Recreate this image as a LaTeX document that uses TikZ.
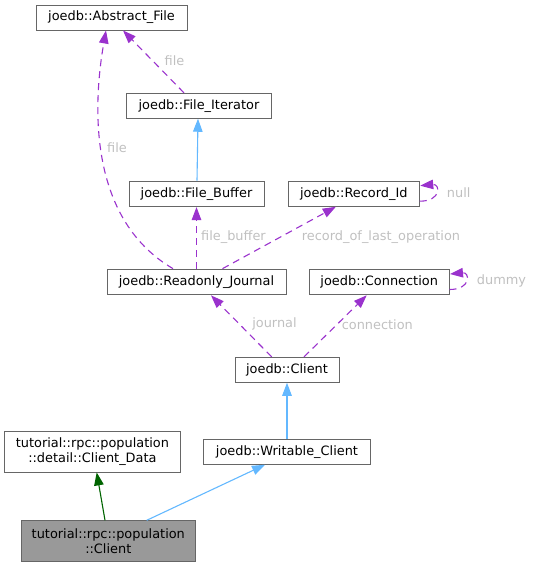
\documentclass[tikz,border=0pt]{standalone}
\usepackage{fontspec}
\setmainfont{DejaVu Sans}
\usetikzlibrary{arrows.meta,calc}
\definecolor{edgepurple}{HTML}{9A32CD}
\definecolor{inhblue}{HTML}{63B8FF}
\definecolor{darkgr}{HTML}{006400}
\definecolor{lblgray}{HTML}{C0C0C0}
\definecolor{boxgray}{HTML}{666666}
\definecolor{fillgray}{HTML}{999999}
\begin{document}
\begin{tikzpicture}[x=1pt,y=-1pt,
  cls/.style={draw=boxgray,line width=0.9pt,fill=white,rectangle,inner sep=0pt,
    font=\fontsize{12.9}{15.2}\selectfont,align=center},
  cur/.style={cls,fill=fillgray},
  tip/.style={-{Triangle[length=13pt,width=9.5pt]}},
  usage/.style={tip,draw=edgepurple,line width=1.1pt,dash pattern=on 7pt off 5pt},
  inherit/.style={tip,draw=inhblue,line width=1.1pt},
  priv/.style={tip,draw=darkgr,line width=1.1pt},
  elabel/.style={text=lblgray,font=\fontsize{12.9}{15.2}\selectfont,inner sep=0pt}]
\useasboundingbox (0,0) rectangle (533,567);

\node[cls,minimum width=151pt,minimum height=25pt] (AF) at (111.5,17.5) {joedb::Abstract\_File};
\node[cls,minimum width=144.7pt,minimum height=25pt] (FI) at (199,105.8) {joedb::File\_Iterator};
\node[cls,minimum width=135pt,minimum height=25.6pt] (FB) at (196.5,193.8) {joedb::File\_Buffer};
\node[cls,minimum width=131pt,minimum height=25.3pt] (RI) at (353.8,193.7) {joedb::Record\_Id};
\node[cls,minimum width=179pt,minimum height=25.8pt] (RJ) at (196.5,282) {joedb::Readonly\_Journal};
\node[cls,minimum width=139.7pt,minimum height=25.7pt] (CN) at (379.2,282) {joedb::Connection};
\node[cls,minimum width=104pt,minimum height=25pt] (CL) at (287,369.8) {joedb::Client};
\node[cls,minimum width=167pt,minimum height=25pt] (WC) at (287,451.8) {joedb::Writable\_Client};
\node[cls,minimum width=175.3pt,minimum height=40.3pt] (CD) at (92.4,451.8) {tutorial::rpc::population\\::detail::Client\_Data};
\node[cur,minimum width=174.7pt,minimum height=40.5pt] (PC) at (108.3,541) {tutorial::rpc::population\\::Client};

% Readonly_Journal -> Abstract_File (file)
\draw[usage] ($(RJ.north)+(-23.5,0)$) .. controls (90,220) and (92,110) .. ($(AF.south)+(-5.5,0)$);
\node[elabel] (l1) at (117,148) {file};
% File_Iterator -> Abstract_File (file)
\draw[usage] ($(FI.north)+(-15,0)$) -- ($(AF.south)+(11.5,0)$);
\node[elabel] (l2) at (174.5,61) {file};
% File_Buffer -> File_Iterator
\draw[inherit] ($(FB.north)+(0.5,0)$) -- ($(FI.south)+(-1,0)$);
% Readonly_Journal -> File_Buffer
\draw[usage] (RJ.north) -- (FB.south);
\node[elabel,anchor=west] (l3) at (201,237) {file\_buffer};
% Readonly_Journal -> Record_Id
\draw[usage] ($(RJ.north)+(26,0)$) -- ($(RI.south)+(-18,0)$);
\node[elabel] (l4) at (381,236.7) {record\_of\_last\_operation};
% Record_Id self loop
\draw[usage] ($(RI.east)+(0,7.5)$) .. controls +(22,0) and +(20,-2) .. ($(RI.east)+(0.5,-8)$);
\node[elabel] (l5) at (458.7,192.7) {null};
% Connection self loop
\draw[usage] ($(CN.east)+(0,7.5)$) .. controls +(22,0) and +(20,-2) .. ($(CN.east)+(0.5,-8)$);
\node[elabel] (l6) at (501.5,280.7) {dummy};
% Client -> Readonly_Journal
\draw[usage] ($(CL.north)+(-15.3,0)$) -- ($(RJ.south)+(14.5,0)$);
\node[elabel] (l7) at (274.5,324.3) {journal};
% Client -> Connection
\draw[usage] ($(CL.north)+(17,0)$) -- ($(CN.south)+(-12.5,0)$);
\node[elabel] (l8) at (377.3,325) {connection};
% Writable_Client -> Client
\draw[inherit] (WC.north) -- (CL.south);
% population::Client -> Writable_Client
\draw[inherit] ($(PC.north)+(38.4,0)$) -- ($(WC.south)+(-22,0)$);
% population::Client -> Client_Data
\draw[priv] ($(PC.north)+(-3.3,0)$) -- ($(CD.south)+(4.3,0)$);
\end{tikzpicture}
\end{document}
